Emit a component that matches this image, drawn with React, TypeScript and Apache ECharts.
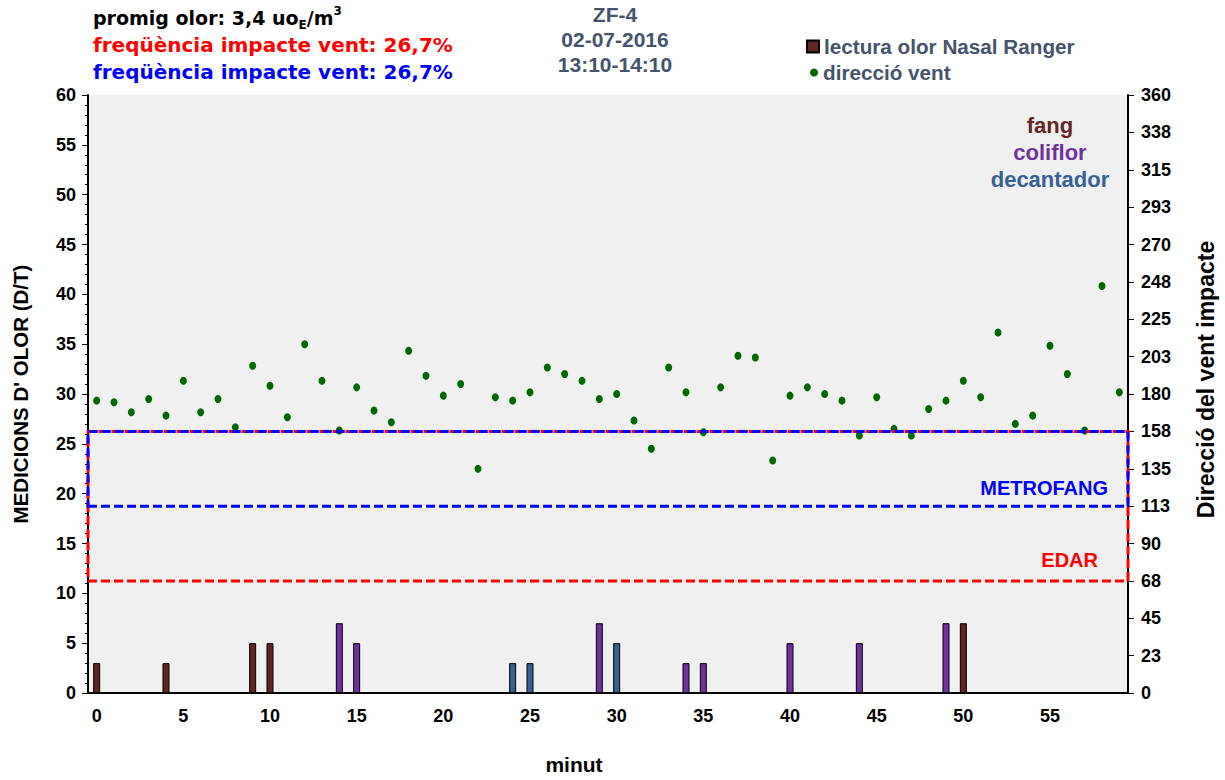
import React, { useEffect, useRef } from "react";
import * as echarts from "echarts";

// ---- data ----
const minutes: string[] = Array.from({ length: 60 }, (_, i) => String(i));

// wind direction (degrees) per minute
const windDirection = [
  176, 175, 169, 177, 167, 188, 169, 177, 160, 197,
  185, 166, 210, 188, 158, 184, 170, 163, 206, 191,
  179, 186, 135, 178, 176, 181, 196, 192, 188, 177,
  180, 164, 147, 196, 181, 157, 184, 203, 202, 140,
  179, 184, 180, 176, 155, 178, 159, 155, 171, 176,
  188, 178, 217, 162, 167, 209, 192, 158, 245, 181,
];

// Nasal Ranger readings
const readingMinutes = [0, 4, 9, 10, 14, 15, 24, 25, 29, 30, 34, 35, 40, 44, 49, 50];
const readingValues = [3, 3, 5, 5, 7, 5, 3, 3, 7, 5, 3, 3, 5, 5, 7, 7];
const readingSources = [
  "fang", "fang", "fang", "fang", "coliflor", "coliflor", "decantador", "decantador",
  "coliflor", "decantador", "coliflor", "coliflor", "coliflor", "coliflor", "coliflor", "fang",
];

const sourceNames = ["fang", "coliflor", "decantador"];
const sourceColors: Record<string, string> = {
  fang: "#632523",
  coliflor: "#7030A0",
  decantador: "#366092",
};

// wind impact zones (degrees)
const zoneNames = ["EDAR", "METROFANG"];
const zoneFrom = [67.5, 112.5];
const zoneTo = [157.5, 157.5];
const zoneColors = ["#FF0000", "#0000FF"];

const leftTicks = { min: 0, max: 60, interval: 5 };
const rightTicks = { min: 0, max: 360, interval: 22.5 };

const titleLines = ["ZF-4", "02-07-2016", "13:10-14:10"];

const ARIAL = '"Liberation Sans", Arial, sans-serif';
const TAHOMA = '"DejaVu Sans", Verdana, sans-serif';

export default function App() {
  const ref = useRef<HTMLDivElement>(null);

  useEffect(() => {
    if (!ref.current) return;
    const chart = echarts.init(ref.current, null, { renderer: "svg" });

    const barData = minutes.map((_, i) => {
      const k = readingMinutes.indexOf(i);
      if (k < 0) return "-";
      return {
        value: readingValues[k],
        itemStyle: { color: sourceColors[readingSources[k]] },
      };
    });

    const axisLabelStyle = {
      color: "#000",
      fontWeight: "bold" as const,
      fontFamily: ARIAL,
      fontSize: 18,
    };

    const legendText = { color: "#44546A", fontWeight: "bold", fontFamily: ARIAL, fontSize: 20.7 };

    const option: any = {
      animation: false,
      grid: {
        left: 88,
        right: 97,
        top: 95,
        bottom: 86,
        show: true,
        backgroundColor: "#F0F0F0",
        borderWidth: 0,
      },
      legend: [
        {
          data: ["lectura olor Nasal Ranger"],
          left: 801,
          top: 31,
          icon: "rect",
          itemWidth: 12,
          itemHeight: 12,
          selectedMode: false,
          textStyle: legendText,
        },
        {
          data: ["direcció vent"],
          left: 805,
          top: 57,
          icon: "circle",
          itemWidth: 8,
          itemHeight: 8,
          selectedMode: false,
          textStyle: legendText,
        },
      ],
      xAxis: {
        type: "category",
        data: minutes,
        boundaryGap: true,
        axisLine: { lineStyle: { color: "#000", width: 2 } },
        axisTick: {
          interval: (i: number) => i % 5 === 0,
          length: 6,
          lineStyle: { color: "#000", width: 1 },
        },
        axisLabel: {
          ...axisLabelStyle,
          interval: (i: number) => i % 5 === 0,
          margin: 14,
        },
        splitLine: { show: false },
        name: "minut",
        nameLocation: "middle",
        nameGap: 61,
        nameTextStyle: {
          color: "#000",
          fontWeight: "bold",
          fontFamily: ARIAL,
          fontSize: 21,
          padding: [0, 68, 0, 0],
        },
      },
      yAxis: [
        {
          type: "value",
          min: leftTicks.min,
          max: leftTicks.max,
          interval: leftTicks.interval,
          axisLine: { show: true, lineStyle: { color: "#000", width: 2 } },
          axisTick: { show: true, length: 6, lineStyle: { color: "#000" } },
          minorTick: { show: true, splitNumber: 5, length: 3, lineStyle: { color: "#000" } },
          axisLabel: { ...axisLabelStyle, margin: 12 },
          splitLine: { show: false },
          name: "MEDICIONS D' OLOR (D/T)",
          nameLocation: "middle",
          nameGap: 57,
          nameTextStyle: { color: "#000", fontWeight: "bold", fontFamily: ARIAL, fontSize: 20.5 },
        },
        {
          type: "value",
          position: "right",
          min: rightTicks.min,
          max: rightTicks.max,
          interval: rightTicks.interval,
          axisLine: { show: true, lineStyle: { color: "#000", width: 2 } },
          axisTick: { show: true, length: 6, lineStyle: { color: "#000" } },
          axisLabel: {
            ...axisLabelStyle,
            margin: 13,
            formatter: (v: number) => String(Math.round(v)),
          },
          splitLine: { show: false },
          name: "Direcció del vent impacte",
          nameLocation: "middle",
          nameRotate: 90,
          nameGap: 66,
          nameTextStyle: {
            color: "#000",
            fontWeight: "bold",
            fontFamily: ARIAL,
            fontSize: 23,
            padding: [0, 0, 0, 29],
          },
        },
      ],
      series: [
        {
          name: "lectura olor Nasal Ranger",
          type: "bar",
          yAxisIndex: 0,
          barWidth: 7,
          data: barData,
          itemStyle: { color: sourceColors.fang, borderColor: "#000", borderWidth: 1 },
          z: 2,
        },
        {
          name: "direcció vent",
          type: "scatter",
          yAxisIndex: 1,
          symbol: "circle",
          symbolSize: [7, 8],
          itemStyle: { color: "#006600", opacity: 1 },
          data: windDirection,
          z: 3,
          markArea: {
            silent: true,
            z: 4,
            data: zoneNames.map((_, k) => [
              {
                yAxis: zoneFrom[k],
                itemStyle: {
                  color: "rgba(0,0,0,0)",
                  borderColor: zoneColors[k],
                  borderWidth: 3,
                  borderType: [9, 4],
                },
              },
              { yAxis: zoneTo[k] },
            ]),
          },
        },
      ],
      graphic: [
        {
          type: "text",
          x: 93,
          y: 18,
          style: {
            text: "{b|promig olor: 3,4 uo}{sub|E}{b|/m}{sup|3}",
            textVerticalAlign: "middle",
            rich: {
              b: { fontSize: 19, fontWeight: "bold", fontFamily: TAHOMA, fill: "#000", lineHeight: 26, verticalAlign: "middle" },
              sub: { fontSize: 12, fontWeight: "bold", fontFamily: TAHOMA, fill: "#000", lineHeight: 26, verticalAlign: "bottom" },
              sup: { fontSize: 12, fontWeight: "bold", fontFamily: TAHOMA, fill: "#000", lineHeight: 26, verticalAlign: "top" },
            },
          },
        },
        {
          type: "text",
          x: 93,
          y: 45,
          style: {
            text: "freqüència impacte vent: 26,7%",
            fill: "#FF0000",
            font: `bold 20px ${TAHOMA}`,
            textVerticalAlign: "middle",
          },
        },
        {
          type: "text",
          x: 93,
          y: 72,
          style: {
            text: "freqüència impacte vent: 26,7%",
            fill: "#0000FF",
            font: `bold 20px ${TAHOMA}`,
            textVerticalAlign: "middle",
          },
        },
        ...titleLines.map((t, i) => ({
          type: "text",
          x: 615,
          y: 14 + i * 25,
          style: {
            text: t,
            fill: "#44546A",
            font: `bold 21px ${ARIAL}`,
            textAlign: "center",
            textVerticalAlign: "middle",
          },
        })),
        ...sourceNames.map((s, i) => ({
          type: "text",
          x: 1050,
          y: 125 + i * 27,
          z: 10,
          style: {
            text: s,
            fill: sourceColors[s],
            font: `bold 22px ${ARIAL}`,
            textAlign: "center",
            textVerticalAlign: "middle",
          },
        })),
        {
          type: "text",
          x: 1108,
          y: 488,
          z: 10,
          style: {
            text: zoneNames[1],
            fill: zoneColors[1],
            font: `bold 20px ${ARIAL}`,
            textAlign: "right",
            textVerticalAlign: "middle",
          },
        },
        {
          type: "text",
          x: 1098,
          y: 560,
          z: 10,
          style: {
            text: zoneNames[0],
            fill: zoneColors[0],
            font: `bold 20px ${ARIAL}`,
            textAlign: "right",
            textVerticalAlign: "middle",
          },
        },
      ],
    };

    chart.setOption(option);
    return () => chart.dispose();
  }, []);

  return (
    <div
      ref={ref}
      style={{ position: "fixed", left: 0, top: 0, width: 1225, height: 780, background: "#fff" }}
    />
  );
}
